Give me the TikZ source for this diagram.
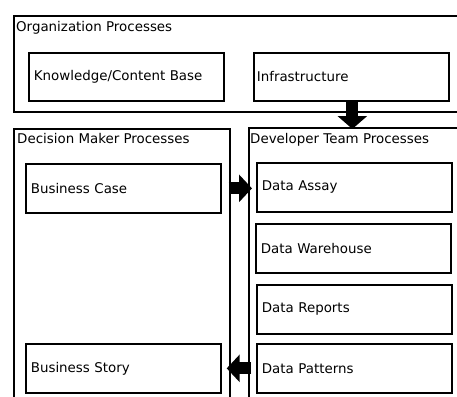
\documentclass[tikz,border=0pt]{standalone}
\usepackage{fontspec}
\setmainfont{DejaVu Sans}
\usetikzlibrary{arrows.meta}
\begin{document}
\begin{tikzpicture}[x=1pt, y=-1pt,
  every node/.style={font=\fontsize{13.4}{15}\selectfont},
  frame/.style={draw, line width=1.7pt, anchor=north west, inner sep=0pt},
  title/.style={anchor=base west, inner sep=0pt},
  box/.style={draw, line width=1.7pt, anchor=north west, inner xsep=5pt,
    inner ysep=0pt, text width=185pt, minimum height=48pt, align=left},
  blockarrow/.style={line width=12pt, -{Triangle[length=13pt, width=#1]}},
  blockarrow/.default=27pt
]
\useasboundingbox (0,0) rectangle (457,396);
\clip (0,0) rectangle (457,396);

% containers
\node[frame, minimum width=460pt, minimum height=96pt] (org) at (13,15) {};
\node[title] (orgt) at (16,32) {Organization Processes};
\node[frame, minimum width=216pt, minimum height=290pt] (dm) at (13,128) {};
\node[title] (dmt) at (17,143) {Decision Maker Processes};
\node[frame, minimum width=230pt, minimum height=290pt] (dev) at (248,127) {};
\node[title] (devt) at (250,143) {Developer Team Processes};

% organization level
\node[box, minimum height=48pt] (kb) at (28,52) {Knowledge/Content Base};
\node[box, inner xsep=3pt, text width=189pt] (infra) at (253,52) {Infrastructure};

% decision maker
\node[box, minimum height=49pt] (bcase) at (25,163) {Business Case};
\node[box, minimum height=49pt] (story) at (25,343) {Business Story};

% developer team
\node[box, minimum height=49pt] (assay) at (256,162) {Data Assay};
\node[box, minimum height=49pt] (wh) at (255,223) {Data Warehouse};
\node[box, minimum height=49pt] (rep) at (256,284) {Data Reports};
\node[box, minimum height=49pt] (pat) at (256,343) {Data Patterns};

% flows
\draw[blockarrow=29pt] ([xshift=1pt]infra.south) -- ([xshift=1pt,yshift=-2pt]infra.south |- dev.north);
\draw[blockarrow, shorten <=7pt, shorten >=4pt] (bcase.east) -- (bcase.east -| assay.west);
\draw[blockarrow, shorten <=5pt, shorten >=5pt] (pat.west) -- (pat.west -| story.east);
\end{tikzpicture}
\end{document}
